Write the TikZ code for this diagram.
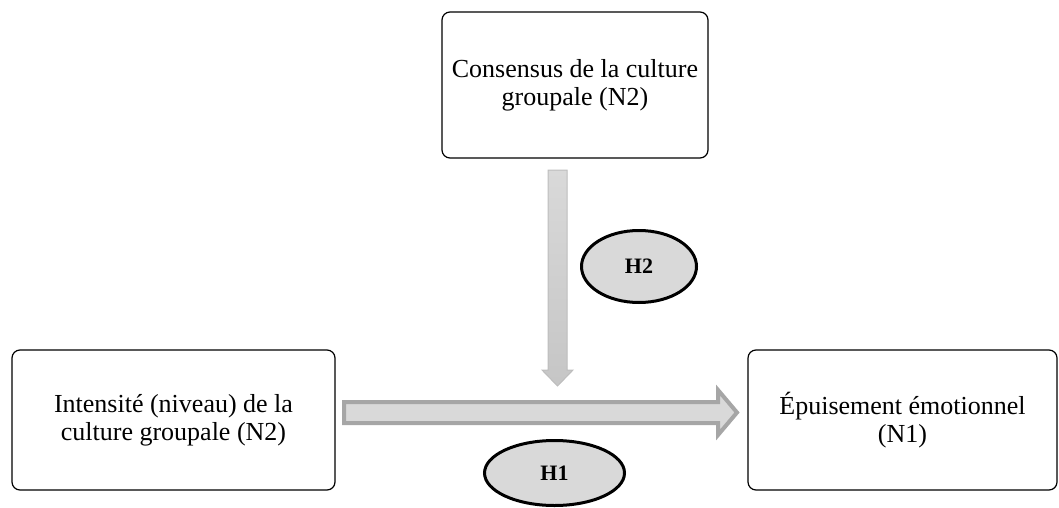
\documentclass[tikz,border=0pt]{standalone}
\usepackage{fontspec}
\setmainfont{Liberation Serif}
\usepackage{tikz}
\usetikzlibrary{shapes.geometric}
\definecolor{hypfill}{HTML}{D9D9D9}
\definecolor{arrowfill}{HTML}{D9D9D9}
\definecolor{arrowedge}{HTML}{A6A6A6}
\definecolor{vedge}{HTML}{BDBDBD}

\begin{document}
\begin{tikzpicture}[x=0.5pt, y=-0.5pt,
  box/.style={draw, rounded corners=4pt, line width=0.6pt, align=center, inner sep=0pt,
    font=\fontsize{13}{14}\selectfont},
  hyp/.style={ellipse, draw, line width=1.5pt, fill=hypfill, inner sep=0pt,
    font=\fontsize{11}{12}\selectfont\bfseries}]
\useasboundingbox (0,0) rectangle (1059,508);
% Boxes
\node[box, minimum width=133pt, minimum height=73pt] (consensus) at (575,85) {Consensus de la culture\\groupale (N2)};
\node[box, minimum width=161.5pt, minimum height=70pt] (intensite) at (173.5,420) {Intensité (niveau) de la\\culture groupale (N2)};
\node[box, minimum width=154.5pt, minimum height=70pt] (epuisement) at (902.5,420) {Épuisement émotionnel\\(N1)};
% Arrows
\coordinate (h1start) at (344,412.5);
\coordinate (h1end) at (737,412.5);
\draw[line width=2pt, draw=arrowedge, fill=arrowfill] (h1start) ++(0,-10.5) -- ++(374,0) -- ++(0,-12) -- (h1end) -- ++(-19,22.5) -- ++(0,-12) -- ++(-374,0) -- cycle;
\coordinate (h2start) at (557.5,170);
\coordinate (h2end) at (557.5,386);
\shadedraw[top color=hypfill, bottom color=gray!45, draw=vedge, line width=0.5pt] (h2start) ++(-9.5,0) -- ++(19,0) -- ++(0,200) -- ++(6,0) -- (h2end) -- ++(-15.5,-16) -- ++(6,0) -- cycle;
% Hypotheses
\node[hyp, minimum width=57.5pt, minimum height=36pt] (h2) at (639,266.5) {H2};
\node[hyp, minimum width=70pt, minimum height=32.5pt] (h1) at (554.5,473) {H1};
\end{tikzpicture}
\end{document}
